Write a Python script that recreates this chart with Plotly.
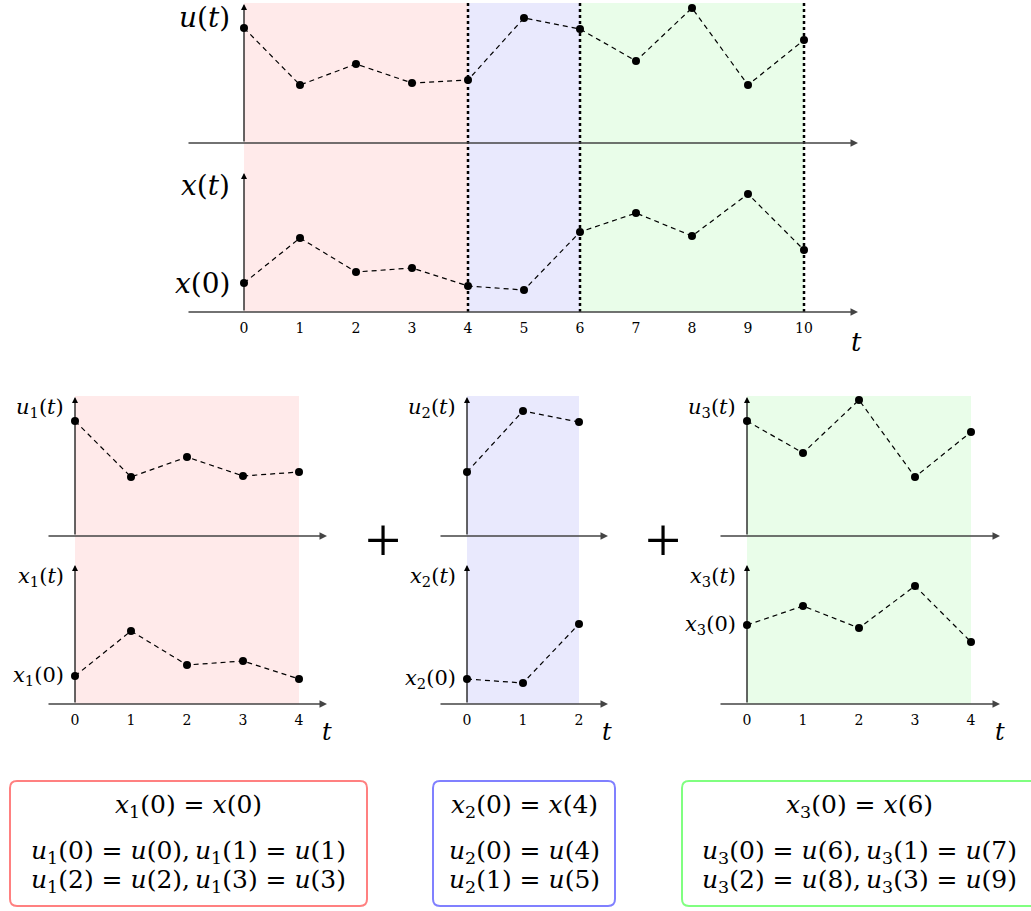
import plotly.graph_objects as go

W, H = 1031, 911

# ---------------- data ----------------
t_full = list(range(11))
u_full = [11.5, 5.8, 7.9, 6.0, 6.3, 12.5, 11.4, 8.2, 13.5, 5.8, 10.3]
x_full = [2.9, 7.4, 4.0, 4.4, 2.6, 2.2, 8.0, 9.9, 7.6, 11.8, 6.2]
seg_bounds = [0, 4, 6, 10]
top_ticks = list(range(11))

t1 = [0, 1, 2, 3, 4]
u1 = [11.5, 5.9, 7.9, 6.0, 6.4]
x1 = [2.8, 7.3, 3.9, 4.3, 2.5]

t2 = [0, 1, 2]
u2 = [6.4, 12.5, 11.4]
x2 = [2.5, 2.1, 8.0]

t3 = [0, 1, 2, 3, 4]
u3 = [11.5, 8.3, 13.6, 5.9, 10.4]
x3 = [7.9, 9.8, 7.6, 11.8, 6.2]

seg_fill = ["rgb(255,234,234)", "rgb(233,233,253)", "rgb(233,253,233)"]
box_line = ["#ff8080", "#8080ff", "#80ff80"]

box1_lines = ["<i>x</i><sub>1</sub>(0) = <i>x</i>(0)",
              "<i>u</i><sub>1</sub>(0) = <i>u</i>(0),\u2009<i>u</i><sub>1</sub>(1) = <i>u</i>(1)",
              "<i>u</i><sub>1</sub>(2) = <i>u</i>(2),\u2009<i>u</i><sub>1</sub>(3) = <i>u</i>(3)"]
box2_lines = ["<i>x</i><sub>2</sub>(0) = <i>x</i>(4)",
              "<i>u</i><sub>2</sub>(0) = <i>u</i>(4)",
              "<i>u</i><sub>2</sub>(1) = <i>u</i>(5)"]
box3_lines = ["<i>x</i><sub>3</sub>(0) = <i>x</i>(6)",
              "<i>u</i><sub>3</sub>(0) = <i>u</i>(6),\u2009<i>u</i><sub>3</sub>(1) = <i>u</i>(7)",
              "<i>u</i><sub>3</sub>(2) = <i>u</i>(8),\u2009<i>u</i><sub>3</sub>(3) = <i>u</i>(9)"]

# ---------------- layout constants (pixels) ----------------
UNIT = 56
FONT = "DejaVu Serif"
panels = [
    dict(t=t_full, u=u_full, x=x_full, ticks=top_ticks, t0=244, left=187, right=858,
         ub=143, ut=3, xb=312, xt=172, sub="", lab=28, tsize=26, tpos=(856, 342),
         segs=[(seg_bounds[i], seg_bounds[i + 1], seg_fill[i]) for i in range(3)]),
    dict(t=t1, u=u1, x=x1, ticks=t1, t0=75, left=47, right=327,
         ub=536, ut=396, xb=704, xt=564, sub="1", lab=21, tsize=24, tpos=(327, 732),
         segs=[(t1[0], t1[-1], seg_fill[0])]),
    dict(t=t2, u=u2, x=x2, ticks=t2, t0=467, left=439, right=608,
         ub=536, ut=396, xb=704, xt=564, sub="2", lab=21, tsize=24, tpos=(607, 732),
         segs=[(t2[0], t2[-1], seg_fill[1])]),
    dict(t=t3, u=u3, x=x3, ticks=t3, t0=747, left=719, right=1000,
         ub=536, ut=396, xb=704, xt=564, sub="3", lab=21, tsize=24, tpos=(1000, 732),
         segs=[(t3[0], t3[-1], seg_fill[2])]),
]


def px(v):
    return v / W


def py(v):
    return 1 - v / H


fig = go.Figure()
layout = dict(width=W, height=H, margin=dict(l=0, r=0, t=0, b=0, pad=0),
              paper_bgcolor="white", plot_bgcolor="rgba(0,0,0,0)", showlegend=False)
shapes, annotations = [], []

for i, p in enumerate(panels):
    xi = i + 1
    yu = 2 * i + 1
    yx = 2 * i + 2
    xname = "x" if xi == 1 else f"x{xi}"
    yuname = "y" if yu == 1 else f"y{yu}"
    yxname = f"y{yx}"
    xr = [(p["left"] - p["t0"]) / UNIT, (p["right"] - p["t0"]) / UNIT]
    layout["xaxis" if xi == 1 else f"xaxis{xi}"] = dict(
        domain=[px(p["left"]), px(p["right"])], range=xr, anchor=yxname,
        showgrid=False, zeroline=False, showline=False,
        tickmode="array", tickvals=p["ticks"], ticktext=[str(v) for v in p["ticks"]],
        ticks="outside", ticklen=3, tickcolor="rgba(0,0,0,0)",
        tickfont=dict(family=FONT, size=14, color="black"), fixedrange=True)
    layout["yaxis" if yu == 1 else f"yaxis{yu}"] = dict(
        domain=[py(p["ub"]), py(p["ut"])], range=[0, 14], anchor=xname, visible=False)
    layout[f"yaxis{yx}"] = dict(
        domain=[py(p["xb"]), py(p["xt"])], range=[0, 14], anchor=xname, visible=False)

    # shaded regions
    for a, b, c in p["segs"]:
        shapes.append(dict(type="rect", xref=xname, yref="paper", x0=a, x1=b,
                           y0=py(p["xb"]), y1=py(p["ut"]), fillcolor=c,
                           line=dict(width=0), layer="below"))

    # data traces
    for vals, yname in ((p["u"], yuname), (p["x"], yxname)):
        fig.add_trace(go.Scatter(
            x=p["t"], y=vals, xaxis=xname, yaxis=yname, mode="lines+markers",
            line=dict(color="black", width=1.2, dash="5px,4px"),
            marker=dict(color="black", size=8), cliponaxis=False, hoverinfo="skip"))

    # axes arrows
    for yname in (yuname, yxname):
        annotations.append(dict(x=xr[1], y=0, ax=xr[0], ay=0, xref=xname, yref=yname,
                                axref=xname, ayref=yname, text="", showarrow=True,
                                arrowhead=2, arrowsize=1, arrowwidth=1.5,
                                arrowcolor="#444", standoff=0, startstandoff=0))
        annotations.append(dict(x=0, y=13.9, ax=0, ay=0, xref=xname, yref=yname,
                                axref=xname, ayref=yname, text="", showarrow=True,
                                arrowhead=2, arrowsize=1, arrowwidth=1.2,
                                arrowcolor="black", standoff=0, startstandoff=0))

    # y labels
    s = f"<sub>{p['sub']}</sub>" if p["sub"] else ""
    rx = p["t0"] - (12 if i == 0 else 9)
    lf = dict(family=FONT, size=p["lab"], color="black")
    annotations.append(dict(x=px(rx), y=py(p["ut"] + (14 if i == 0 else 12)), xref="paper", yref="paper",
                            text=f"<i>u</i>{s}(<i>t</i>)", showarrow=False,
                            xanchor="right", yanchor="middle", font=lf))
    annotations.append(dict(x=px(rx), y=py(p["xt"] + (14 if i == 0 else 13)), xref="paper", yref="paper",
                            text=f"<i>x</i>{s}(<i>t</i>)", showarrow=False,
                            xanchor="right", yanchor="middle", font=lf))
    annotations.append(dict(x=px(rx), y=p["x"][0], xref="paper", yref=yxname,
                            text=f"<i>x</i>{s}(0)", showarrow=False,
                            xanchor="right", yanchor="middle", font=lf))
    # t label
    annotations.append(dict(x=px(p["tpos"][0]), y=py(p["tpos"][1]), xref="paper", yref="paper",
                            text="<i>t</i>", showarrow=False, xanchor="center", yanchor="middle",
                            font=dict(family=FONT, size=p["tsize"], color="black")))

# dotted segment separators (top panel)
for b in seg_bounds[1:]:
    shapes.append(dict(type="line", xref="x", yref="paper", x0=b, x1=b,
                       y0=py(panels[0]["xb"]), y1=py(panels[0]["ut"]),
                       line=dict(color="black", width=2.5, dash="dot"), layer="above"))

# plus signs
for cx in (383, 663):
    annotations.append(dict(x=px(cx), y=py(540), xref="paper", yref="paper", text="+",
                            showarrow=False, xanchor="center", yanchor="middle",
                            font=dict(family="Liberation Serif", size=64, color="black")))


# rounded boxes
def rrect(x0, y0, x1, y1, r):
    pts = [("M", x0 + r, y0), ("L", x1 - r, y0), ("Q", x1, y0, x1, y0 + r),
           ("L", x1, y1 - r), ("Q", x1, y1, x1 - r, y1), ("L", x0 + r, y1),
           ("Q", x0, y1, x0, y1 - r), ("L", x0, y0 + r), ("Q", x0, y0, x0 + r, y0)]
    out = []
    for pt in pts:
        cmd, coords = pt[0], pt[1:]
        cs = []
        for k in range(0, len(coords), 2):
            cs.append(f"{px(coords[k]):.5f},{py(coords[k + 1]):.5f}")
        out.append(cmd + " ".join(cs))
    return " ".join(out) + " Z"


boxes = [((10, 781, 367, 906), 188, box1_lines, box_line[0]),
         ((433, 781, 615, 906), 524, box2_lines, box_line[1]),
         ((682, 781, 1045, 906), 859, box3_lines, box_line[2])]
line_y = [806, 852, 881]
for (bx0, by0, bx1, by1), cx, lines, col in boxes:
    shapes.append(dict(type="path", xref="paper", yref="paper",
                       path=rrect(bx0, by0, bx1, by1, 7), line=dict(color=col, width=2)))
    for ly, txt in zip(line_y, lines):
        annotations.append(dict(x=px(cx), y=py(ly), xref="paper", yref="paper", text=txt,
                                showarrow=False, xanchor="center", yanchor="middle",
                                font=dict(family=FONT, size=25, color="black")))

layout["shapes"] = shapes
layout["annotations"] = annotations
fig.update_layout(**layout)
fig.write_html("out.html", config={"displayModeBar": False, "staticPlot": True})
